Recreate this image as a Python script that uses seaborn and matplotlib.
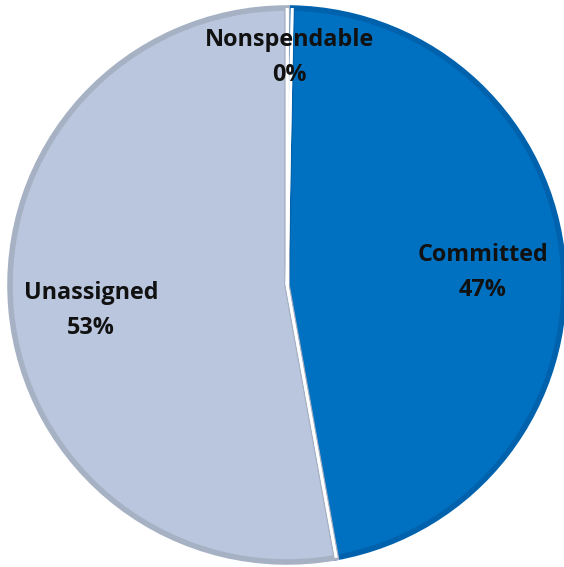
import numpy as np
import matplotlib
matplotlib.use("Agg")
import matplotlib.pyplot as plt
import seaborn as sns

# Fund balance components
categories = ["Nonspendable", "Committed", "Unassigned"]
amounts = [0.3, 47.0, 53.0]

fill_colors = ["#FFFFFF", "#0070C0", "#BAC6DE"]
edge_colors = ["#F2F2F2", "#0062AD", "#A6B1C4"]
label_radius = [0.82, 0.71, 0.71]
label_dy = [0.0, -0.011, -0.03]

sns.set_theme(style="white")
plt.rcParams["font.family"] = ["Open Sans", "DejaVu Sans"]

fig = plt.figure(figsize=(5.64, 5.67), dpi=100)
cx, cy, r = 287, 285, 277
W, H = 564, 567
ax = fig.add_axes([(cx - r) / W, (H - cy - r) / H, 2 * r / W, 2 * r / H])

wedges, _ = ax.pie(amounts, colors=fill_colors, startangle=90, counterclock=False,
                   radius=1.0, wedgeprops=dict(linewidth=4, edgecolor="none"))
for w, ec in zip(wedges, edge_colors):
    w.set_edgecolor(ec)

# white separators along the radial boundaries
for w in wedges:
    for t in (w.theta1, w.theta2):
        a = np.deg2rad(t)
        ax.plot([0, np.cos(a)], [0, np.sin(a)], color="white", lw=2.0,
                solid_capstyle="butt", zorder=5)

total = sum(amounts)
for w, name, v, d, dy in zip(wedges, categories, amounts, label_radius, label_dy):
    ang = np.deg2rad((w.theta1 + w.theta2) / 2)
    x, y = d * np.cos(ang), d * np.sin(ang) + dy
    ax.text(x, y, f"{name}\n{round(100 * v / total)}%", ha="center", va="center",
            fontsize=16.8, fontweight="bold", color="#111111", linespacing=1.6,
            zorder=6)

ax.set_xlim(-1, 1)
ax.set_ylim(-1, 1)
ax.set_aspect("auto")
ax.axis("off")
fig.savefig("out.png", dpi=100)
